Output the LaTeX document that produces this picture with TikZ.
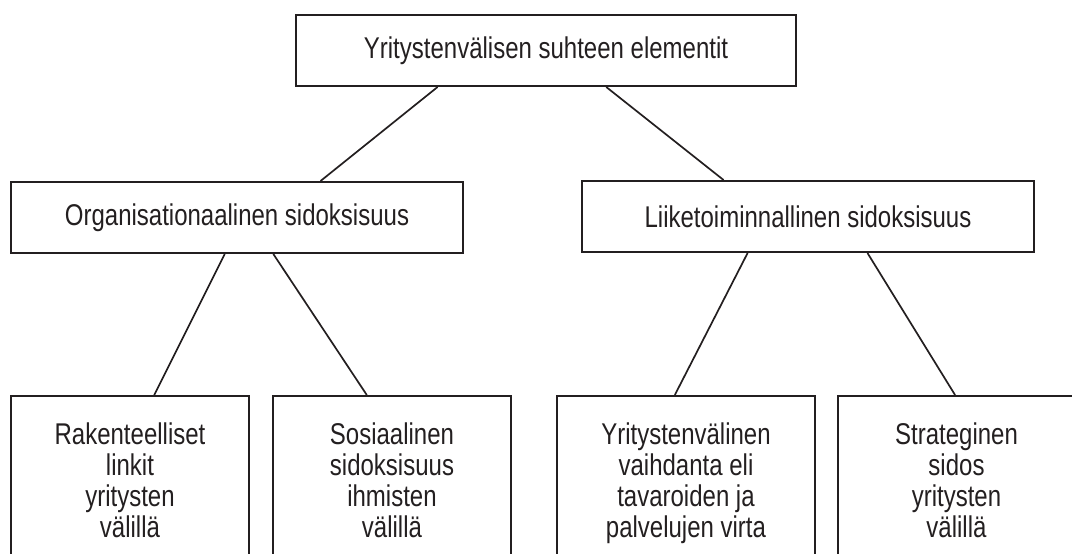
\documentclass[tikz,border=0pt]{standalone}
\usepackage{fontspec}
\setmainfont{Liberation Sans}[FakeStretch=0.80]
\usetikzlibrary{calc}
\definecolor{ink}{HTML}{231F20}
\tikzset{
  box/.style={draw=ink, line width=2pt, rectangle, text=ink, align=center,
    font=\fontsize{30}{31}\selectfont, inner sep=4pt, minimum height=71pt},
  lowbox/.style={box, anchor=north, minimum height=177pt,
    execute at begin node=\strut, execute at end node=\strut},
  link/.style={draw=ink, line width=1.7pt}
}
\begin{document}
\begin{tikzpicture}[x=1pt, y=-1pt]
\useasboundingbox (0,0) rectangle (1072,554);
\clip (0,0) rectangle (1072,554);
\node[box, minimum width=500pt] (top) at (546,50.5) {Yritystenvälisen suhteen elementit};
\node[box, minimum width=452pt] (ml) at (237,217.5) {Organisationaalinen sidoksisuus};
\node[box, minimum width=452pt] (mr) at (808,216.5) {Liiketoiminnallinen sidoksisuus};
\node[lowbox, minimum width=238pt] (b1) at (130,395) {Rakenteelliset\\linkit\\yritysten\\välillä};
\node[lowbox, minimum width=238pt] (b2) at (392,395) {Sosiaalinen\\sidoksisuus\\ihmisten\\välillä};
\node[lowbox, minimum width=258pt] (b3) at (686,395) {Yritystenvälinen\\vaihdanta eli\\tavaroiden ja\\palvelujen virta};
\node[lowbox, minimum width=237pt] (b4) at (956.5,395) {Strateginen\\sidos\\yritysten\\välillä};
\draw[link] ($(top.south west)!0.284!(top.south east)$) -- ($(ml.north west)!0.684!(ml.north east)$);
\draw[link] ($(top.south west)!0.620!(top.south east)$) -- ($(mr.north west)!0.314!(mr.north east)$);
\draw[link] ($(ml.south west)!0.473!(ml.south east)$) -- ($(b1.north west)!0.601!(b1.north east)$);
\draw[link] ($(ml.south west)!0.580!(ml.south east)$) -- ($(b2.north west)!0.395!(b2.north east)$);
\draw[link] ($(mr.south west)!0.367!(mr.south east)$) -- ($(b3.north west)!0.457!(b3.north east)$);
\draw[link] ($(mr.south west)!0.631!(mr.south east)$) -- ($(b4.north west)!0.494!(b4.north east)$);
\end{tikzpicture}
\end{document}
